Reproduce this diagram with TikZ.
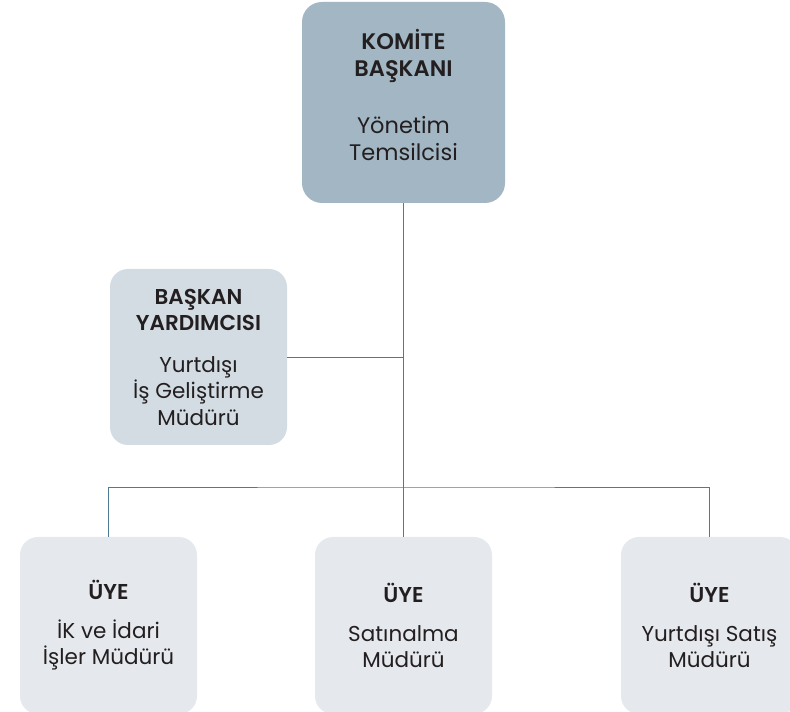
\documentclass[tikz,border=0pt]{standalone}
\usepackage{fontspec}
\setmainfont{Poppins}[BoldFont={Poppins SemiBold}]
\usepackage{xcolor}
\definecolor{topfill}{HTML}{A3B6C3}
\definecolor{vicefill}{HTML}{D3DCE3}
\definecolor{memfill}{HTML}{E5E8EC}
\definecolor{linkblue}{HTML}{4E7A93}
\definecolor{textdark}{HTML}{231F20}

\begin{document}
\begin{tikzpicture}[x=1pt, y=1pt,
    box/.style={rounded corners=18pt, align=center, text=textdark, inner sep=0pt,
      minimum width=177pt, minimum height=177pt, font=\fontsize{21.5}{26.5}\selectfont},
    link/.style={draw=linkblue, line width=0.9pt}]
    \useasboundingbox (0,0) rectangle (790,712);
    \clip (0,0) rectangle (790,712);
    \node[box, fill=topfill, minimum width=203pt, minimum height=201pt, rounded corners=20pt,
      font=\fontsize{22.5}{27}\selectfont] (Kom) at (403.5,609.5)
      {\textbf{KOMİTE}\\ \textbf{BAŞKANI}\\[30pt] Yönetim\\ Temsilcisi\\[-12pt]};
    \node[box, fill=vicefill, minimum height=176pt] (Vice) at (198.5,355)
      {\textbf{BAŞKAN}\\ \textbf{YARDIMCISI}\\[15pt] Yurtdışı\\ İş Geliştirme\\ Müdürü};
    \node[box, fill=memfill] (Ik) at (108.5,86.5)
      {\textbf{ÜYE}\\[12pt] İK ve İdari\\ İşler Müdürü};
    \node[box, fill=memfill] (Sat) at (403.5,86.5)
      {\textbf{ÜYE}\\[12pt] Satınalma\\ Müdürü};
    \node[box, fill=memfill] (Yss) at (709.5,86.5)
      {\textbf{ÜYE}\\[12pt] Yurtdışı Satış\\ Müdürü};

    \coordinate (Bus) at (403.5,225);
    \draw[link] (Kom.south) -- (Sat.north);
    \draw[link] (Vice.east) -- (Vice.east -| Kom.south);
    \draw[link] (Ik.north) |- (Bus) -| (Yss.north);
  \end{tikzpicture}
\end{document}
